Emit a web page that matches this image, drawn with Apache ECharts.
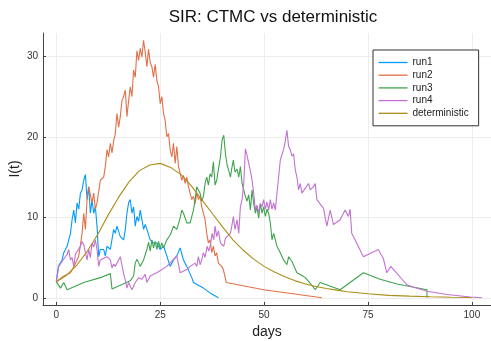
<!DOCTYPE html>
<html>
<head>
<meta charset="utf-8">
<script src="https://cdn.jsdelivr.net/npm/echarts@6/dist/echarts.min.js"></script>
<style>
html,body{margin:0;padding:0;background:#fff;}
#c{width:491px;height:341px;}
</style>
</head>
<body>
<div id="c"></div>
<script>
// ---- data: [days, I(t)] ----
const seriesNames = ["run1", "run2", "run3", "run4", "deterministic"];
const xTicks = [0, 25, 50, 75, 100];
const yTicks = [0, 10, 20, 30];

const run1 = [[0,2],[0.5,3.9],[1.4,4.7],[1.8,5.6],[2.6,6.4],[3,7.2],[3.4,8],[3.8,9.7],[4.2,10.9],[4.6,9.3],[5,11.8],[5.4,11],[5.8,13],[6.2,13.4],[6.6,14.6],[7,15.3],[7.4,12.2],[7.8,13.8],[8.2,10.5],[8.6,12.2],[9,10.5],[9.4,11.3],[9.8,8.9],[10.2,5.1],[10.6,6],[11.4,6],[11.8,5.2],[12.2,6.4],[13,6],[13.8,8.5],[14.2,8],[14.6,8.9],[15.4,7.6],[16.2,7.2],[16.6,8.5],[17,10.5],[17.4,11.8],[17.8,12.2],[18.2,10.5],[18.6,11.3],[19,8.9],[19.4,10.1],[19.8,9.5],[20.2,10.9],[20.6,9.7],[21,8.5],[21.4,9.1],[21.8,8.5],[22.6,7.2],[23.4,6.8],[24.2,6.8],[25,6],[25.8,6.4],[26.6,5.2],[27.4,3.9],[28.2,4.7],[29,5.2],[29.8,6.2],[30.6,4.7],[31.4,3.9],[32.6,2.5],[33,1.9],[35.4,1.2],[37,0.6],[39,0]];

const run2 = [[0,2],[1.5,2.6],[3.4,3.1],[4.4,4],[5.4,5.2],[5.8,6.5],[6.2,8],[6.6,10.5],[7,8.5],[7.4,12.2],[7.8,13.8],[8.2,14],[8.6,11.8],[9,13],[9.4,11],[9.8,11.8],[10.6,14.6],[11.4,15],[11.8,16.3],[12.2,18.4],[12.6,17.5],[13,19.2],[13.4,18],[13.8,19.5],[14.2,20.4],[14.6,22.9],[15,21.2],[15.4,22.5],[15.8,24.5],[16.2,25],[16.6,25.8],[17,22.5],[17.4,24.5],[17.8,26.2],[18.2,25],[18.6,28.3],[19,27.4],[19.4,30.7],[19.8,29.5],[20.2,31],[20.6,29.9],[21,32],[21.4,30.5],[21.8,28.7],[22.2,30.9],[22.6,29.2],[23,28.7],[23.4,27.4],[23.8,29],[24.2,27],[24.6,26.2],[25,24.1],[25.4,25],[25.8,22.9],[26.2,22],[26.6,20],[27,20.4],[27.4,18.4],[27.8,17.5],[28.2,19.2],[28.6,16.7],[29,18.8],[29.4,16.3],[29.8,15.5],[30.2,14.6],[30.6,15.2],[31,14.2],[31.4,15],[31.8,13.8],[32.2,13.8],[32.6,12.2],[33,12.6],[33.4,11.7],[33.8,13],[34.2,12.2],[34.6,12.6],[35,11.3],[35.8,9.7],[36.2,8],[36.6,6.8],[37,7.2],[37.4,5.6],[37.8,6.4],[38.2,5.2],[38.6,5.6],[39,4.3],[39.8,3.9],[40.2,3.5],[40.9,1.9],[49.9,1],[63.9,0]];

const run3 = [[0,2],[1,1.2],[1.8,1.9],[2.6,1],[6.6,1.9],[10.6,2.5],[13,3],[13.4,1.1],[17.8,2.1],[18.6,2.7],[19,4.3],[19.4,4.8],[20.2,3.9],[21,4.7],[21.8,6],[22.2,6.9],[22.6,5.8],[23,7.2],[23.4,6.2],[23.8,7],[24.2,6],[24.6,7],[25,6.2],[25.4,6.8],[25.8,6.2],[26.6,7.2],[27.4,7.8],[28.2,8.9],[29,8.5],[29.8,9.9],[30.2,10.9],[30.6,10.5],[31.4,9.3],[32.2,9.3],[33,10.9],[33.4,12.2],[33.8,13.8],[34.2,13.4],[34.6,13],[35,12],[35.4,12.6],[35.8,14.2],[36.2,15],[36.6,14],[37,15.4],[37.4,15],[37.8,16.9],[38.2,14],[38.6,14.6],[39,15.9],[39.5,17.5],[39.9,19.6],[40.3,20.2],[40.7,17.9],[41.1,16.5],[41.5,15.8],[41.9,15],[42.2,16],[42.6,17.1],[43,15.6],[43.5,16],[43.9,15],[44.3,16.3],[44.7,14.2],[45.1,13.4],[45.5,12.6],[45.9,12],[46.3,12.8],[46.7,10.9],[47.1,13.4],[47.5,11.7],[47.9,10.5],[48.3,11.3],[48.7,9.9],[49.1,11.7],[49.5,10.5],[49.9,11.3],[50.3,10.1],[50.7,11],[51.1,10.5],[51.5,9.3],[51.9,7.2],[52.3,8],[53.1,6.4],[53.9,5.6],[54.7,4.7],[55.5,4.1],[55.9,5.1],[56.7,4.5],[57.9,3.1],[58.7,2.9],[59.9,2.5],[61.1,1.8],[62.3,1],[63.5,1.9],[68.3,1],[73.9,3.1],[77.9,2.3],[82,1.7],[89.2,1],[89.2,0]];

const run4 = [[0,2],[0.6,3.9],[1.4,4.5],[2.6,5.4],[3,6],[3.4,4.7],[3.8,5],[4.2,3.9],[4.6,5.4],[5,5.6],[5.8,6.4],[6.2,7],[6.6,6.6],[7,5.6],[7.4,4.7],[7.8,6],[8.2,5],[8.6,6.8],[9,6.3],[9.4,7.2],[9.8,6],[10.2,3.9],[10.6,4.7],[11.4,4.9],[12.2,5.1],[13,4.7],[13.4,3.7],[13.8,4.2],[14.2,3.9],[15.4,5.1],[16.2,3],[16.6,2.2],[17,1.2],[17.4,1.9],[17.8,1.4],[18.2,1],[19,1.9],[19.8,2.5],[20.6,2.3],[21.4,2.9],[21.8,1.9],[22.6,2.7],[24.2,3.1],[26.6,3.9],[29,5.2],[29.8,3.1],[31.4,3.5],[32.2,3.9],[33.4,4.3],[33.8,3.9],[34.2,5.1],[34.6,4.1],[35,4.7],[35.4,5.6],[35.8,5],[36.3,6.4],[36.7,5.8],[37.1,6.6],[37.5,8],[37.9,7.2],[38.2,8.9],[38.6,7.6],[39,8.3],[39.5,6.8],[40.3,6.4],[40.7,7.4],[41.1,7.2],[41.9,8],[42.2,8.8],[42.6,10.1],[43,8.5],[43.5,9.7],[43.9,8],[44.3,11.3],[44.7,12.2],[45.1,14.2],[45.5,18.5],[45.9,17.7],[46.3,16.7],[46.7,15.8],[47.1,14.6],[47.5,13],[47.9,10.9],[48.3,11.5],[48.7,10.5],[49.1,11.7],[49.5,11.3],[49.9,12.2],[50.3,11],[50.7,11.9],[51.1,10.9],[51.5,12.2],[51.9,11],[52.3,11.8],[52.7,10.9],[53.1,13],[53.5,15],[53.9,17.1],[54.3,17.8],[54.7,18.4],[55.1,19.5],[55.5,20.8],[55.9,18.8],[56.3,18.4],[56.7,17.6],[57.1,17.9],[57.5,15.9],[57.9,15],[58.3,13.4],[58.7,14.2],[59.1,13],[59.9,13.6],[60.7,14.2],[61.1,13.4],[61.5,13.2],[61.9,13.8],[62.3,14.2],[62.7,12.2],[64.3,11.1],[65.1,8.9],[65.9,10.9],[66.7,9.1],[68.3,9.7],[69.5,10.9],[70.3,10.1],[70.7,11],[71.1,8],[71.5,7.6],[73.9,5.1],[77.5,6],[77.9,5.6],[78.7,4.9],[79.5,3.1],[80.5,3.9],[82,3],[83.2,2.3],[84.4,1.6],[86,1.3],[89.2,0.8],[94,0.4],[99.6,0.1],[102.4,0]];

const deterministic = [[0,2],[2.5,2.8],[5,4.1],[7.5,5.8],[10,7.9],[12.5,10.3],[15,12.5],[17.5,14.4],[20,15.8],[22.5,16.5],[25,16.7],[27.5,16.2],[30,15.3],[32.5,13.9],[35,12.2],[37.5,10.5],[40,8.8],[42.5,7.2],[45,5.9],[47.5,4.8],[50,3.9],[52.5,3.2],[55,2.6],[57.5,2.1],[60,1.7],[62.5,1.4],[65,1.15],[67.5,0.95],[70,0.75],[75,0.5],[80,0.3],[85,0.2],[90,0.12],[95,0.07],[100,0.04]];

const colors = ["#009AFA", "#E36F47", "#3EA44E", "#C371D2", "#AC8D18"];
const allData = [run1, run2, run3, run4, deterministic];

const FONT = "Liberation Sans, Arial, sans-serif";
const chart = echarts.init(document.getElementById('c'), null, {renderer: 'canvas'});
chart.setOption({
  animation: false,
  backgroundColor: '#fff',
  title: {
    text: 'SIR: CTMC vs deterministic',
    left: 268, top: 4, textAlign: 'center',
    textStyle: {fontFamily: FONT, fontSize: 17, fontWeight: 'normal', color: '#111'}
  },
  grid: {left: 43, top: 33, width: 448, height: 272, containLabel: false, outerBoundsMode: 'none'},
  legend: {
    orient: 'vertical', left: 373, top: 50,
    padding: [7.5, 10, 7.5, 5.5],
    itemWidth: 29, itemHeight: 10, itemGap: 2.7,
    icon: 'path://M0,0 L29,0 L29,1.3 L0,1.3 Z',
    borderColor: '#333', borderWidth: 1, backgroundColor: '#fff',
    textStyle: {fontFamily: FONT, fontSize: 10, lineHeight: 10, color: '#222', padding: [0,0,0,0]},
    data: seriesNames
  },
  xAxis: {
    type: 'value', min: -3.2, max: 104.6,
    name: 'days', nameLocation: 'middle', nameGap: 19,
    nameTextStyle: {fontFamily: FONT, fontSize: 14, color: '#222'},
    axisLine: {show: true, onZero: false, lineStyle: {color: '#444', width: 1}},
    axisTick: {show: true, inside: true, length: 3, customValues: xTicks, lineStyle: {color: '#444'}},
    axisLabel: {customValues: xTicks, fontFamily: FONT, fontSize: 10, color: '#333', margin: 5},
    splitLine: {show: true, lineStyle: {color: '#ececec', width: 1}}
  },
  yAxis: {
    type: 'value', min: -0.9, max: 32.9,
    name: 'I(t)', nameLocation: 'middle', nameGap: 21, nameRotate: 90, nameMoveOverlap: false,
    nameTextStyle: {fontFamily: FONT, fontSize: 14, color: '#222'},
    axisLine: {show: true, onZero: false, lineStyle: {color: '#444', width: 1}},
    axisTick: {show: true, inside: true, length: 3, customValues: yTicks, lineStyle: {color: '#444'}},
    axisLabel: {customValues: yTicks, fontFamily: FONT, fontSize: 10, color: '#333', margin: 5},
    splitLine: {show: true, lineStyle: {color: '#ececec', width: 1}}
  },
  series: allData.map((d, i) => ({
    name: seriesNames[i], type: 'line', data: d,
    symbol: 'none', showSymbol: false,
    color: colors[i],
    lineStyle: {color: colors[i], width: 1.1},
    z: 2 + i
  }))
});
</script>
</body>
</html>
